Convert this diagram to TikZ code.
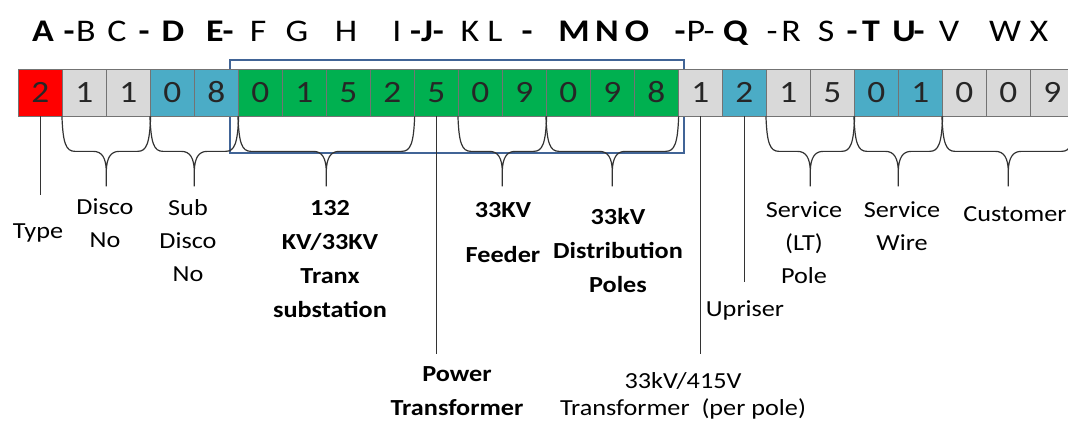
\documentclass[tikz,border=0pt]{standalone}
\usepackage{fontspec}
\setmainfont{Carlito}[FakeStretch=1.14]
\usetikzlibrary{calc}
\definecolor{cred}{RGB}{255,0,0}
\definecolor{cgray}{RGB}{217,217,217}
\definecolor{cblue}{RGB}{75,172,198}
\definecolor{cgreen}{RGB}{0,176,80}
\definecolor{cframe}{RGB}{65,100,150}
\tikzset{
  cell/.style={draw=black!55, line width=0.7pt, minimum width=44pt, minimum height=47pt,
    inner sep=0pt, font=\fontsize{31}{31}\selectfont, text=black!85},
  hdr/.style={anchor=base, inner sep=0pt, font=\fontsize{31.5}{31.5}\selectfont},
  lbl/.style={anchor=base, inner sep=0pt, align=center, font=\fontsize{23}{33}\selectfont},
  blbl/.style={anchor=base, inner sep=0pt, align=center, font=\fontsize{23}{33.7}\selectfont\bfseries},
  conn/.style={draw=black!80, line width=1.2pt},
  brc/.style={draw=black!80, line width=1.2pt, line join=round},
  frame/.style={draw=cframe, line width=2.8pt}
}
\newcommand\cbr[2]{%
  \draw[brc] let \p1=(#1.south west), \p2=(#2.south east), \n1={0.5*(\x1+\x2)} in
    (\p1) .. controls ({\x1+1pt},{\y1-27pt}) and ({\x1+4pt},{\y1-35pt}) .. ({\x1+13pt},{\y1-35pt})
    -- ({\n1*1pt-13pt},{\y1-35pt}) .. controls ({\n1*1pt-4pt},{\y1-35pt}) and ({\n1*1pt-0.5pt},{\y1-42pt}) .. ({\n1*1pt},{\y1-54pt})
    -- ({\n1*1pt},{\y1-70pt})
    ({\n1*1pt},{\y1-54pt}) .. controls ({\n1*1pt+0.5pt},{\y1-42pt}) and ({\n1*1pt+4pt},{\y1-35pt}) .. ({\n1*1pt+13pt},{\y1-35pt})
    -- ({\x2-13pt},{\y2-35pt}) .. controls ({\x2-4pt},{\y2-35pt}) and ({\x2-1pt},{\y2-27pt}) .. (\p2);}
\begin{document}
\begin{tikzpicture}[x=1pt, y=-1pt]
\useasboundingbox (0,0) rectangle (1068,421);
% frame behind cells
\draw[frame] (230,60) rectangle (684,153);
% cells
\foreach \d/\c [count=\i from 0] in {2/cred,1/cgray,1/cgray,0/cblue,8/cblue,
  0/cgreen,1/cgreen,5/cgreen,2/cgreen,5/cgreen,0/cgreen,9/cgreen,0/cgreen,9/cgreen,8/cgreen,
  1/cgray,2/cblue,1/cgray,5/cgray,0/cblue,1/cblue,0/cgray,0/cgray,9/cgray}
  \node[cell, fill=\c] (c\i) at ({40.3+44*\i},92.5) {\d};
% header letters
\foreach \x/\t [count=\i] in {43/\textbf{A},69/\textbf{-},86/B,117/C,144/\textbf{-},173/\textbf{D},
  215/\textbf{E},228/\textbf{-},258/F,297/G,346/H,397/I,427/\textbf{-J-},470/K,495/L,527/\textbf{-},
  574/\textbf{M},607/\textbf{N},637/\textbf{O},680/\textbf{-},696/P,709/-,736/\textbf{Q},772/-,791/R,
  826/S,852/\textbf{-},871/\textbf{T},904/\textbf{U},919/\textbf{-},949/V,1005/W,1039/X}
  \node[hdr] (h\i) at (\x,41) {\t};
% braces
\cbr{c1}{c2}
\cbr{c3}{c4}
\cbr{c5}{c8}
\cbr{c10}{c11}
\cbr{c12}{c14}
\cbr{c17}{c18}
\cbr{c19}{c20}
\cbr{c21}{c23}
% labels (position = baseline of the last line)
\node[lbl] (type) at (38,238) {Type};
\node[lbl] (disco) at (105,247) {Disco\\No};
\node[lbl] (sub) at (188,281) {Sub\\Disco\\No};
\node[blbl] (trx) at (330,317) {132\\KV/33KV\\Tranx\\substation};
\node[blbl] (feeder) at (503,262) {33KV\\[11pt]Feeder};
\node[blbl] (dist) at (618,292) {33kV\\Distribution\\Poles};
\node[blbl] (pwr) at (457,415) {Power\\Transformer};
\node[lbl] (t415) at (683,415) {33kV/415V\\[-6pt]Transformer\ \ (per pole)};
\node[lbl] (upr) at (745,316) {Upriser};
\node[lbl] (svp) at (804,283) {Service\\(LT)\\Pole};
\node[lbl] (svw) at (902,250) {Service\\Wire};
\node[lbl] (cust) at (1015,221) {Customer};
% connector lines
\coordinate (tyE) at (40.3,195);
\coordinate (ptE) at (436.3,354);
\coordinate (trE) at (700.3,354);
\coordinate (upE) at (744.3,282);
\draw[conn] (c0.south) -- (tyE);
\draw[conn] (c9.south) -- (ptE);
\draw[conn] (c15.south) -- (trE);
\draw[conn] (c16.south) -- (upE);
\end{tikzpicture}
\end{document}
